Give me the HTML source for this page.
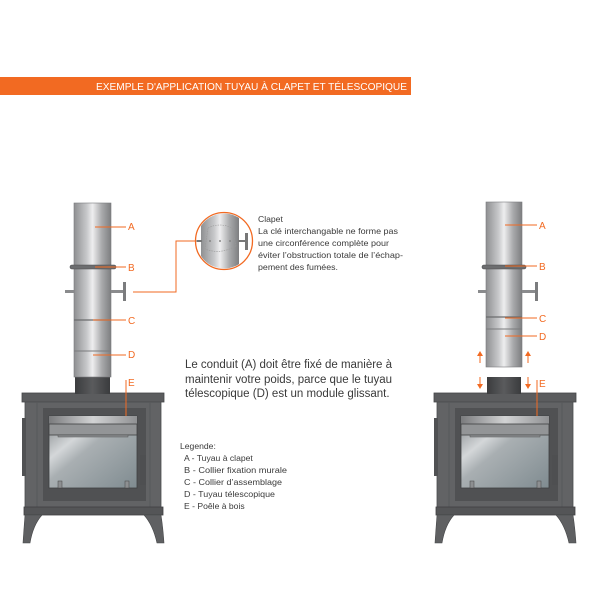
<!DOCTYPE html>
<html><head><meta charset="utf-8"><style>
body{margin:0;background:#fff}
svg{display:block}
text{font-family:"Liberation Sans",sans-serif}
</style></head><body>
<svg width="600" height="600" viewBox="0 0 600 600" xmlns="http://www.w3.org/2000/svg">
<defs>
<linearGradient id="pipe" x1="0" x2="1" y1="0" y2="0">
<stop offset="0" stop-color="#8e8f91"/><stop offset="0.35" stop-color="#c8c9cb"/><stop offset="0.5" stop-color="#eeeeef"/><stop offset="0.75" stop-color="#a9aaac"/><stop offset="1" stop-color="#7d7e80"/>
</linearGradient>
<linearGradient id="flue" x1="0" x2="1"><stop offset="0" stop-color="#3b3c3e"/><stop offset="0.5" stop-color="#5a5b5d"/><stop offset="1" stop-color="#3a3b3d"/></linearGradient>
<linearGradient id="glass" x1="0" y1="0" x2="1" y2="1">
<stop offset="0" stop-color="#7d8285"/><stop offset="0.3" stop-color="#d4d7d9"/><stop offset="0.45" stop-color="#a9afb2"/><stop offset="1" stop-color="#7f8b90"/>
</linearGradient>
<linearGradient id="strip" x1="0" x2="1"><stop offset="0" stop-color="#7a7b7d"/><stop offset="0.5" stop-color="#d2d3d4"/><stop offset="1" stop-color="#909193"/></linearGradient>
<g id="stove">
<rect x="22" y="393" width="142" height="9" fill="#5b5c5e" stroke="#454648" stroke-width="0.8"/>
<rect x="25" y="402" width="136" height="106" fill="#626365" stroke="#4c4d4f" stroke-width="0.8"/>
<rect x="22" y="418" width="4" height="58" fill="#505153"/>
<line x1="37" y1="402" x2="37" y2="507" stroke="#57585a"/>
<line x1="150" y1="402" x2="150" y2="507" stroke="#57585a"/>
<rect x="43" y="408" width="103" height="93" fill="#505153"/>
<rect x="49" y="416" width="88" height="72" fill="url(#glass)" stroke="#3f4042" stroke-width="0.8"/>
<rect x="49" y="416" width="88" height="8" fill="url(#strip)"/>
<rect x="49" y="424" width="88" height="11" fill="#939597" stroke="#3f4042" stroke-width="0.8"/>
<rect x="58" y="435" width="70" height="2" fill="#8a8c8e" stroke="#555" stroke-width="0.5"/>
<rect x="58" y="481" width="4" height="7" fill="#8d8f91" stroke="#444" stroke-width="0.5"/>
<rect x="125" y="481" width="4" height="7" fill="#8d8f91" stroke="#444" stroke-width="0.5"/>
<rect x="140" y="455" width="6" height="30" fill="#4e4f51"/>
<rect x="24" y="507" width="139" height="8" fill="#545557" stroke="#3f4042" stroke-width="0.8"/>
<path d="M25 515 L42 515 Q33 525 30 543 L23 543 Q24 528 25 515Z" fill="#5f6062" stroke="#47484a" stroke-width="0.6"/>
<path d="M161 515 L144 515 Q153 525 157 543 L164 543 Q163 528 161 515Z" fill="#5f6062" stroke="#47484a" stroke-width="0.6"/>
</g>
</defs>

<rect x="0" y="77" width="411" height="18" fill="#f26a22"/>
<text x="96" y="90" font-size="10" fill="#fff" textLength="311" lengthAdjust="spacingAndGlyphs">EXEMPLE D'APPLICATION TUYAU À CLAPET ET TÉLESCOPIQUE</text>

<!-- LEFT -->
<use href="#stove"/>
<rect x="75" y="377" width="35" height="17" fill="url(#flue)"/>
<rect x="74" y="203" width="37" height="174" fill="url(#pipe)" stroke="#7a7b7d" stroke-width="0.6"/>
<line x1="74" y1="320" x2="111" y2="320" stroke="#6b6c6e" stroke-width="1.2"/>
<line x1="74" y1="351" x2="111" y2="351" stroke="#7a7b7d" stroke-width="1"/>
<rect x="70" y="265" width="46" height="4" rx="2" fill="#6c6d6f" stroke="#4b4c4e" stroke-width="0.6"/>
<rect x="65" y="290" width="9" height="3" fill="#8a8b8d"/>
<rect x="111" y="290" width="13" height="3" fill="#8a8b8d"/>
<rect x="123" y="282" width="3" height="19" fill="#7b7c7e"/>
<g stroke="#f26a22" stroke-width="1" fill="none">
<line x1="95" y1="227" x2="126" y2="227"/>
<line x1="95" y1="267" x2="126" y2="267"/>
<line x1="93" y1="320" x2="126" y2="320"/>
<line x1="93" y1="355" x2="126" y2="355"/>
<line x1="126" y1="380" x2="126" y2="416"/>
<polyline points="133,292 176,292 176,241 196,241"/>
<circle cx="224" cy="241" r="28.5" stroke-width="1.3"/>
</g>
<g font-size="10" fill="#f26a22">
<text x="128" y="230">A</text><text x="128" y="271">B</text><text x="128" y="324">C</text><text x="128" y="358">D</text><text x="128" y="386">E</text>
</g>
<clipPath id="cc"><circle cx="224" cy="241" r="27.5"/></clipPath>
<g clip-path="url(#cc)">
<rect x="196" y="212" width="56" height="58" fill="#fff"/>
<rect x="201" y="212" width="38" height="58" fill="url(#pipe)"/>
<path d="M208 228 Q220 222 232 228 L236 246 Q220 255 205 249Z" fill="none" stroke="#999" stroke-width="0.6" stroke-dasharray="1.5 1"/>
<rect x="196" y="240" width="6" height="2" fill="#777"/>
<rect x="238" y="240" width="8" height="2" fill="#777"/>
<rect x="245" y="233" width="3" height="17" fill="#777"/>
<circle cx="210" cy="241" r="1" fill="#888"/><circle cx="220" cy="241" r="1" fill="#888"/><circle cx="230" cy="241" r="1" fill="#888"/>
</g>
<g font-size="8.6" fill="#3a3a3a">
<text x="258" y="222">Clapet</text>
<text x="258" y="234" textLength="140" lengthAdjust="spacingAndGlyphs">La clé interchangable ne forme pas</text>
<text x="258" y="246" textLength="131" lengthAdjust="spacingAndGlyphs">une circonférence complète pour</text>
<text x="258" y="258" textLength="145" lengthAdjust="spacingAndGlyphs">éviter l’obstruction totale de l’échap-</text>
<text x="258" y="270" textLength="80" lengthAdjust="spacingAndGlyphs">pement des fumées.</text>
</g>
<g font-size="11.5" fill="#3a3a3a">
<text x="185" y="368" textLength="207" lengthAdjust="spacing">Le conduit (A) doit être fixé de manière à</text>
<text x="185" y="383" textLength="207" lengthAdjust="spacing">maintenir votre poids, parce que le tuyau</text>
<text x="185" y="397">télescopique (D) est un module glissant.</text>
</g>
<g font-size="8.6" fill="#3a3a3a">
<text x="180" y="449">Legende:</text>
<text x="184" y="461">A - Tuyau à clapet</text>
<text x="184" y="473" textLength="103" lengthAdjust="spacingAndGlyphs">B - Collier fixation murale</text>
<text x="184" y="485" textLength="98" lengthAdjust="spacingAndGlyphs">C - Collier d’assemblage</text>
<text x="184" y="497" textLength="91" lengthAdjust="spacingAndGlyphs">D - Tuyau télescopique</text>
<text x="184" y="509">E - Poêle à bois</text>
</g>

<!-- RIGHT -->
<use href="#stove" transform="translate(412,0)"/>
<rect x="487" y="377" width="34" height="17" fill="url(#flue)"/>
<rect x="486" y="202" width="36" height="165" fill="url(#pipe)" stroke="#7a7b7d" stroke-width="0.6"/>
<line x1="486" y1="317" x2="522" y2="317" stroke="#6b6c6e" stroke-width="1.2"/>
<line x1="486" y1="329" x2="522" y2="329" stroke="#7a7b7d" stroke-width="1"/>
<rect x="482" y="265" width="44" height="4" rx="2" fill="#6c6d6f" stroke="#4b4c4e" stroke-width="0.6"/>
<rect x="478" y="290" width="8" height="3" fill="#8a8b8d"/>
<rect x="522" y="290" width="14" height="3" fill="#8a8b8d"/>
<rect x="535" y="282" width="3" height="19" fill="#7b7c7e"/>
<g stroke="#f26a22" stroke-width="1" fill="none">
<line x1="505" y1="225" x2="537" y2="225"/>
<line x1="505" y1="266" x2="537" y2="266"/>
<line x1="505" y1="318" x2="537" y2="318"/>
<line x1="505" y1="336" x2="537" y2="336"/>
<line x1="537" y1="380" x2="537" y2="416"/>
<line x1="480" y1="355" x2="480" y2="363"/><line x1="528" y1="355" x2="528" y2="363"/>
<line x1="480" y1="377" x2="480" y2="385"/><line x1="528" y1="377" x2="528" y2="385"/>
</g>
<g fill="#f26a22">
<path d="M477 356 L480 351 L483 356Z"/><path d="M525 356 L528 351 L531 356Z"/>
<path d="M477 384 L480 389 L483 384Z"/><path d="M525 384 L528 389 L531 384Z"/>
</g>
<g font-size="10" fill="#f26a22">
<text x="539" y="229">A</text><text x="539" y="270">B</text><text x="539" y="322">C</text><text x="539" y="340">D</text><text x="539" y="387">E</text>
</g>
</svg>
</body></html>
